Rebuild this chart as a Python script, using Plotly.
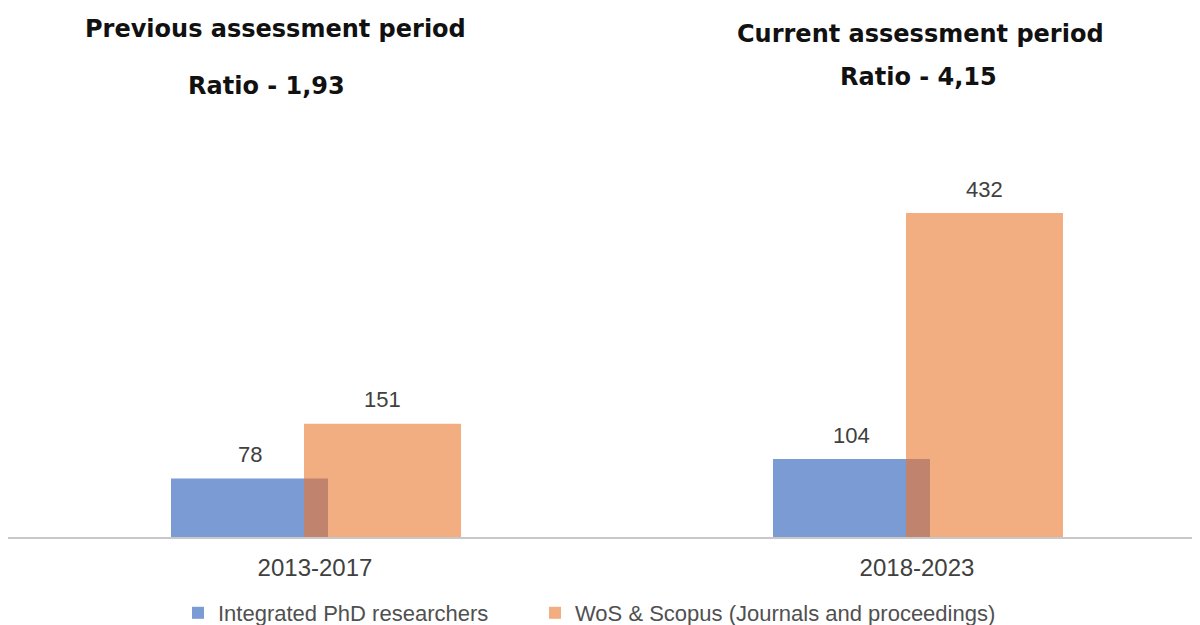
import plotly.graph_objects as go

categories = ["2013-2017", "2018-2023"]
phd_researchers = [78, 104]
wos_scopus = [151, 432]
series_names = ["Integrated PhD researchers", "WoS & Scopus (Journals and proceedings)"]
period_titles = ["Previous assessment period", "Current assessment period"]
ratio_labels = ["Ratio - 1,93", "Ratio - 4,15"]

BLUE = "#7a9bd4"
ORANGE = "#f2ae80"
OVERLAP = "#c0836d"
LABEL = "#404040"

# page is rendered with an 8px body margin
OFF = 8
FW, FH = 1192, 617
TOP, BOT = 92, 88
PH = FH - TOP - BOT          # plot height in px
PX_PER_UNIT = 0.75
PX_PER_CAT = 602.0
CAT0 = 315 - OFF             # px position of first category centre in figure
bar_w = 157 / PX_PER_CAT
blue_off = -144 / PX_PER_CAT
orange_off = -11 / PX_PER_CAT
ov_w = 24 / PX_PER_CAT


def px(x):
    return (x - OFF) / FW


def py(y):
    return (FH - BOT - (y - OFF)) / PH


def cy(y):
    return 1 - (y - OFF) / FH


fig = go.Figure()
fig.add_trace(go.Bar(x=categories, y=phd_researchers, name=series_names[0],
                     marker=dict(color=BLUE, line=dict(width=0)),
                     width=bar_w, offset=blue_off, legend="legend"))
fig.add_trace(go.Bar(x=categories, y=wos_scopus, name=series_names[1],
                     marker=dict(color=ORANGE, line=dict(width=0)),
                     width=bar_w, offset=orange_off, legend="legend2"))
overlap = [min(a, b) for a, b in zip(phd_researchers, wos_scopus)]
fig.add_trace(go.Bar(x=categories, y=overlap, showlegend=False, hoverinfo="skip",
                     marker=dict(color=OVERLAP, line=dict(width=0)),
                     width=ov_w, offset=orange_off))

annotations = []
for i, cat in enumerate(categories):
    for vals, off in ((phd_researchers, blue_off), (wos_scopus, orange_off)):
        annotations.append(dict(
            x=i + off + bar_w / 2, y=vals[i], xref="x", yref="y",
            text=str(vals[i]), showarrow=False, yanchor="middle", yshift=24,
            font=dict(family="Liberation Sans, Arial", size=22, color=LABEL)))

title_font = dict(family="DejaVu Sans", size=24, color="#111111", weight="bold")
title_pos = [((275, 29), (266, 86)), ((920, 34), (918, 77))]
for ((x1, y1), (x2, y2)), t1, t2 in zip(title_pos, period_titles, ratio_labels):
    annotations.append(dict(x=px(x1), y=py(y1), xref="paper", yref="paper", text=t1,
                            showarrow=False, yanchor="middle", xanchor="center",
                            font=title_font))
    annotations.append(dict(x=px(x2), y=py(y2), xref="paper", yref="paper", text=t2,
                            showarrow=False, yanchor="middle", xanchor="center",
                            font=title_font))

legend_font = dict(family="Liberation Sans, Arial", size=22, color="#505050")
fig.update_layout(
    width=FW, height=FH,
    margin=dict(l=0, r=0, t=TOP, b=BOT),
    paper_bgcolor="white", plot_bgcolor="white",
    barmode="overlay",
    annotations=annotations,
    showlegend=True,
    legend=dict(orientation="h", x=px(178), xanchor="left", xref="container",
                y=cy(592), yanchor="top", yref="container",
                font=legend_font, itemwidth=30, bgcolor="rgba(0,0,0,0)"),
    legend2=dict(orientation="h", x=px(535), xanchor="left", xref="container",
                 y=cy(592), yanchor="top", yref="container",
                 font=legend_font, itemwidth=30, bgcolor="rgba(0,0,0,0)"),
    xaxis=dict(range=[-CAT0 / PX_PER_CAT, (FW - CAT0) / PX_PER_CAT],
               showline=True, linecolor="#c8c8c8", linewidth=1.5,
               showgrid=False, zeroline=False, ticks="", ticklabelstandoff=8,
               tickfont=dict(family="Liberation Sans, Arial", size=24, color=LABEL)),
    yaxis=dict(range=[0, PH / PX_PER_UNIT], visible=False, showgrid=False, zeroline=False),
)

fig.write_html("out.html")
